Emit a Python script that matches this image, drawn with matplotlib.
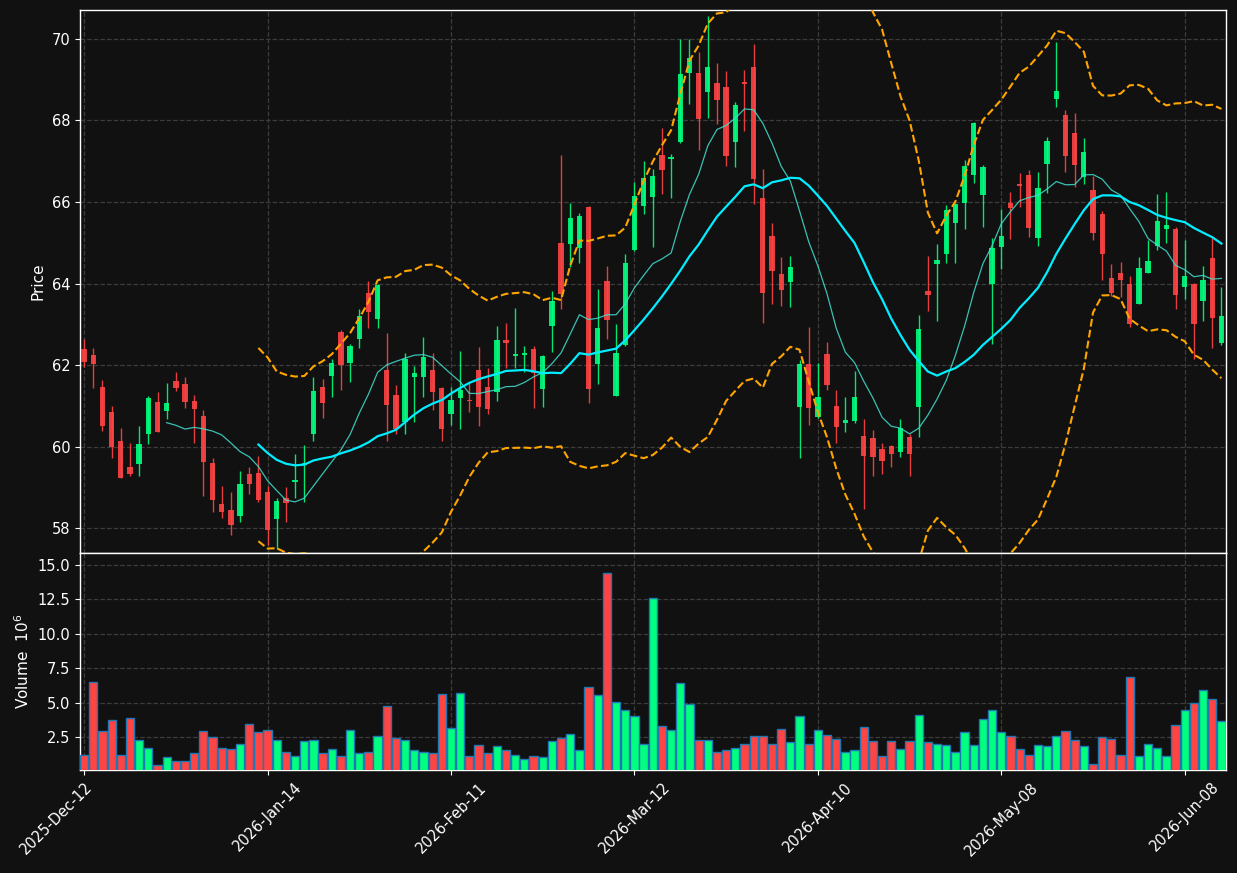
import numpy as np
import pandas as pd
import matplotlib
matplotlib.use("Agg")
import matplotlib.pyplot as plt

# ---------------- data ----------------
opens = [62.39, 62.25, 61.46, 60.85, 60.13, 59.50, 59.58, 60.31, 61.09, 60.88,
         61.61, 61.53, 61.12, 60.75, 59.60, 58.59, 58.44, 58.30, 59.33, 59.35,
         58.88, 58.22, 58.75, 59.12, 59.55, 60.31, 61.45, 61.74, 62.81, 62.06,
         62.65, 63.77, 63.14, 61.88, 61.26, 60.61, 61.71, 61.71, 61.88, 61.44,
         60.80, 61.20, 61.15, 61.88, 61.45, 61.34, 62.61, 62.23, 62.25, 62.39,
         61.42, 62.96, 65.00, 64.98, 64.88, 65.87, 62.03, 64.06, 61.25, 62.50,
         64.83, 65.91, 66.13, 67.15, 67.06, 67.48, 69.17, 69.17, 68.71, 68.92,
         68.82, 67.48, 68.95, 69.31, 66.10, 65.17, 64.23, 64.04, 60.98, 62.03,
         60.73, 62.27, 60.99, 60.58, 60.63, 60.26, 60.21, 59.94, 60.01, 59.87,
         60.23, 60.98, 63.82, 64.49, 64.73, 65.49, 65.98, 66.67, 66.18, 63.99,
         64.90, 65.98, 66.45, 66.66, 65.12, 66.94, 68.53, 68.13, 67.69, 66.62,
         66.29, 65.71, 64.13, 64.26, 64.00, 63.51, 64.26, 64.93, 65.34, 65.34,
         63.92, 64.00, 63.57, 64.63, 62.55]
highs = [62.63, 62.41, 61.63, 60.99, 60.45, 60.10, 60.50, 61.24, 61.34, 61.56,
         61.83, 61.70, 61.26, 60.91, 59.71, 59.03, 58.88, 59.39, 59.50, 59.78,
         59.03, 58.75, 59.00, 59.82, 60.05, 61.71, 61.67, 62.14, 62.85, 62.52,
         63.37, 64.06, 64.00, 62.78, 61.50, 62.29, 61.98, 62.68, 62.29, 61.46,
         61.45, 62.34, 61.55, 62.45, 61.92, 62.96, 63.02, 63.39, 62.48, 62.48,
         62.25, 63.82, 67.15, 65.98, 65.72, 65.89, 63.86, 64.43, 63.00, 64.72,
         66.50, 67.01, 66.81, 67.81, 67.17, 69.99, 69.99, 69.67, 70.56, 69.40,
         69.21, 68.45, 69.23, 69.88, 66.80, 65.48, 64.66, 64.67, 62.12, 62.93,
         62.04, 62.57, 61.39, 61.21, 61.85, 60.67, 60.40, 60.08, 60.05, 60.67,
         60.31, 63.24, 64.67, 64.96, 65.93, 65.97, 67.03, 67.96, 66.91, 65.11,
         65.82, 66.25, 66.70, 66.79, 66.74, 67.59, 69.92, 68.26, 68.18, 67.56,
         66.65, 65.77, 64.47, 64.54, 64.18, 64.66, 65.07, 66.20, 66.24, 65.39,
         65.07, 64.02, 64.43, 65.12, 63.91]
lows = [61.96, 61.43, 60.39, 59.73, 59.22, 59.28, 59.27, 60.06, 60.35, 60.68,
        61.37, 60.95, 60.09, 58.79, 58.40, 58.26, 57.84, 58.14, 58.83, 58.63,
        57.58, 57.50, 58.15, 58.73, 58.65, 60.13, 60.69, 61.22, 61.39, 61.58,
        62.43, 62.90, 62.92, 60.13, 60.32, 60.30, 60.61, 61.22, 60.91, 60.13,
        60.53, 60.42, 60.85, 60.50, 60.79, 61.13, 61.94, 61.92, 61.82, 60.94,
        60.96, 62.31, 63.37, 64.41, 64.51, 61.08, 61.53, 62.63, 61.23, 62.48,
        64.80, 65.71, 64.89, 66.19, 66.09, 67.44, 68.40, 67.27, 68.05, 67.91,
        66.88, 66.85, 67.74, 65.94, 63.04, 63.51, 63.46, 63.42, 59.73, 60.52,
        60.71, 61.39, 60.09, 60.36, 60.58, 58.48, 59.28, 59.34, 59.49, 59.75,
        59.28, 60.24, 63.33, 63.09, 64.50, 64.50, 65.33, 66.46, 65.39, 62.51,
        64.36, 65.10, 65.88, 65.15, 64.92, 66.21, 68.34, 66.74, 66.38, 66.43,
        65.07, 64.09, 63.70, 63.68, 62.94, 63.49, 64.25, 64.82, 64.99, 63.37,
        63.61, 62.16, 63.09, 62.41, 62.49]
closes = [62.08, 62.03, 60.51, 60.00, 59.23, 59.33, 60.06, 61.20, 60.36, 61.07,
          61.44, 61.10, 60.93, 59.63, 58.69, 58.39, 58.08, 59.08, 59.09, 58.69,
          57.96, 58.67, 58.61, 59.18, 59.60, 61.36, 61.08, 62.04, 62.01, 62.47,
          63.20, 63.31, 63.96, 61.03, 60.44, 62.15, 61.80, 62.20, 61.34, 60.44,
          61.14, 61.40, 61.12, 60.98, 60.93, 62.61, 62.55, 62.27, 62.29, 61.81,
          62.22, 63.57, 63.75, 65.61, 65.66, 61.42, 62.90, 63.11, 62.29, 64.50,
          66.15, 66.58, 66.64, 66.79, 67.11, 69.14, 69.54, 68.04, 69.31, 68.49,
          67.14, 68.38, 68.90, 66.57, 63.77, 64.31, 63.85, 64.40, 62.02, 60.94,
          61.21, 61.51, 60.49, 60.65, 61.21, 59.77, 59.75, 59.65, 59.82, 60.46,
          59.82, 62.88, 63.73, 64.58, 65.80, 65.95, 66.88, 67.94, 66.86, 64.87,
          65.17, 65.86, 66.40, 65.37, 66.34, 67.50, 68.72, 67.14, 66.92, 67.23,
          65.25, 64.73, 63.76, 64.09, 63.01, 64.38, 64.55, 65.53, 65.44, 63.72,
          64.18, 63.01, 64.09, 63.16, 63.20]
volumes = [1.26, 6.50, 2.94, 3.74, 1.26, 3.88, 2.28, 1.77, 0.47, 1.05,
           0.80, 0.80, 1.34, 2.94, 2.50, 1.70, 1.63, 1.99, 3.44, 2.86,
           3.01, 2.35, 1.41, 1.12, 2.21, 2.28, 1.34, 1.63, 1.12, 3.01,
           1.34, 1.41, 2.57, 4.75, 2.43, 2.28, 1.56, 1.41, 1.34, 5.62,
           3.15, 5.70, 1.19, 1.92, 1.34, 1.85, 1.56, 1.26, 0.97, 1.19,
           1.05, 2.21, 2.43, 2.72, 1.56, 6.13, 5.55, 14.42, 5.04, 4.46,
           4.03, 1.99, 12.60, 3.30, 3.01, 6.42, 4.90, 2.28, 2.28, 1.48,
           1.56, 1.70, 2.06, 2.57, 2.57, 2.06, 3.08, 2.14, 4.03, 2.06,
           3.01, 2.65, 2.36, 1.41, 1.56, 3.23, 2.21, 1.12, 2.21, 1.63,
           2.21, 4.10, 2.14, 2.06, 1.92, 1.41, 2.86, 1.92, 3.81, 4.46,
           2.86, 2.57, 1.63, 1.26, 1.92, 1.85, 2.57, 2.94, 2.28, 1.85,
           0.61, 2.50, 2.36, 1.26, 6.86, 1.19, 2.06, 1.70, 1.12, 3.37,
           4.46, 4.97, 5.92, 5.26, 3.66]
holidays = ["2025-12-24", "2025-12-25", "2026-01-01", "2026-02-16", "2026-04-03", "2026-05-25"]
dates = pd.bdate_range("2025-12-12", "2026-06-12")
dates = dates[~dates.isin(pd.to_datetime(holidays))]

# ---------------- styling ----------------
BG = "#111111"
UP = "#00ff7f"
DOWN = "#ff4444"
GRID = "#3c3c3c"

o = np.array(opens); h = np.array(highs); l = np.array(lows); c = np.array(closes)
v = np.array(volumes)
n = len(c)
x = np.arange(n)
up = c > o
cols = np.where(up, UP, DOWN)

cs = pd.Series(c)
ma10 = cs.rolling(10).mean()
ma20 = cs.rolling(20).mean()
sd20 = cs.rolling(20).std(ddof=0)
bb_up = ma20 + 2 * sd20
bb_lo = ma20 - 2 * sd20

W, H = 1237, 873
fig = plt.figure(figsize=(W / 100, H / 100), dpi=100, facecolor=BG)
ax1 = fig.add_axes([80 / W, (H - 553) / H, 1146 / W, 543 / H])
ax2 = fig.add_axes([80 / W, (H - 770) / H, 1146 / W, 217 / H], sharex=ax1)

for ax in (ax1, ax2):
    ax.set_facecolor(BG)
    for sp in ax.spines.values():
        sp.set_color("white")
        sp.set_linewidth(1.0)
    ax.tick_params(colors="white", labelsize=10.5)
    ax.grid(True, linestyle="--", color=GRID, linewidth=0.9)
    ax.set_axisbelow(True)

# candles
ax1.vlines(x, l, h, colors=cols, linewidth=1.0, alpha=0.9, zorder=2)
body_lo = np.minimum(o, c)
body_h = np.maximum(np.abs(c - o), 0.03)
ax1.bar(x, body_h, bottom=body_lo, width=0.58, color=cols, alpha=0.9,
        linewidth=0, zorder=3)

# moving averages & bands
ax1.plot(x, ma10, color="#40e0d0", linewidth=0.9, alpha=0.85, zorder=4)
ax1.plot(x, ma20, color="#00eeff", linewidth=1.6, zorder=4)
ax1.plot(x, bb_up, color="#ffa500", linewidth=1.5, linestyle="--", zorder=4)
ax1.plot(x, bb_lo, color="#ffa500", linewidth=1.5, linestyle="--", zorder=4)

ax1.set_ylim(57.39, 70.71)
ax1.set_yticks(np.arange(58, 71, 2))
ax1.set_ylabel("Price", color="white", fontsize=11)
plt.setp(ax1.get_xticklabels(), visible=False)
ax1.tick_params(axis="x", length=0)

# volume
ax2.bar(x, v, width=0.9, color=cols, edgecolor="#1f77b4", linewidth=1.0, zorder=3)
ax2.set_ylim(0.3 * v.min(), 1.1 * v.max())
ax2.set_yticks([2.5, 5.0, 7.5, 10.0, 12.5, 15.0])
ax2.set_ylabel("Volume  $10^{6}$", color="white", fontsize=11)

ticks = list(range(0, n, 20))
ax2.set_xticks(ticks)
ax2.set_xticklabels([dates[i].strftime("%Y-%b-%d") for i in ticks],
                    rotation=45, ha="center")
first = ax2.get_xticklabels()[0]
first.set_horizontalalignment("right")
first.set_rotation_mode("anchor")
ax2.set_xlim(-0.45, n - 0.5)

fig.savefig("out.png", dpi=100, facecolor=BG)
